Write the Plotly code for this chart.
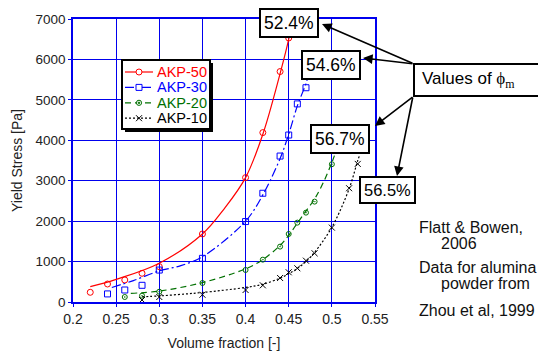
import plotly.graph_objects as go

# ---- data ----
AKP50_x = [0.22, 0.24, 0.26, 0.28, 0.30, 0.35, 0.40, 0.42, 0.44, 0.45]
AKP50_y = [240, 445, 545, 710, 875, 1683, 3077, 4190, 5700, 6530]
AKP30_x = [0.24, 0.26, 0.28, 0.30, 0.35, 0.40, 0.42, 0.44, 0.45, 0.46, 0.47]
AKP30_y = [200, 297, 413, 790, 1080, 1990, 2690, 3610, 4130, 4900, 5300]
AKP20_x = [0.26, 0.28, 0.30, 0.35, 0.40, 0.42, 0.44, 0.45, 0.46, 0.47, 0.48, 0.50]
AKP20_y = [124, 156, 255, 470, 792, 1047, 1370, 1683, 1963, 2210, 2483, 3408]
AKP10_x = [0.28, 0.30, 0.35, 0.40, 0.42, 0.44, 0.45, 0.46, 0.47, 0.48, 0.50, 0.52, 0.53]
AKP10_y = [50, 124, 180, 297, 413, 594, 735, 834, 1022, 1205, 1840, 2814, 3416]

# fitted curves
FIT50_x = [0.22, 0.25, 0.30, 0.35, 0.375, 0.40, 0.42, 0.44, 0.45, 0.453]
FIT50_y = [380, 560, 960, 1683, 2300, 3077, 4150, 5650, 6500, 6850]
FIT30_x = [0.245, 0.27, 0.30, 0.325, 0.35, 0.40, 0.42, 0.44, 0.45, 0.46, 0.47, 0.472]
FIT30_y = [360, 530, 770, 900, 1120, 2000, 2650, 3550, 4150, 4850, 5400, 5550]
FIT20_x = [0.267, 0.30, 0.35, 0.40, 0.42, 0.44, 0.45, 0.46, 0.47, 0.48, 0.49, 0.50, 0.503]
FIT20_y = [215, 270, 480, 820, 1050, 1400, 1650, 1950, 2250, 2550, 2950, 3450, 3620]
FIT10_x = [0.28, 0.30, 0.325, 0.35, 0.40, 0.42, 0.44, 0.45, 0.46, 0.47, 0.48, 0.50, 0.52, 0.53, 0.532]
FIT10_y = [130, 150, 190, 235, 360, 440, 590, 700, 830, 1000, 1230, 1850, 2800, 3500, 3620]

NAMES = ["AKP-50", "AKP-30", "AKP-20", "AKP-10"]
PHI_M = ["52.4%", "54.6%", "56.7%", "56.5%"]
X_TICKS = [0.2, 0.25, 0.3, 0.35, 0.4, 0.45, 0.5, 0.55]
Y_TICKS = [0, 1000, 2000, 3000, 4000, 5000, 6000, 7000]

FONT = "Liberation Sans, Arial, sans-serif"
SERIF = "Liberation Serif, Times New Roman, serif"
series = [
    (AKP50_x, AKP50_y, FIT50_x, FIT50_y, "#FF0000", "solid", "circle-open", 6),
    (AKP30_x, AKP30_y, FIT30_x, FIT30_y, "#0000FF", "9px,3px,2px,3px", "square-open", 6),
    (AKP20_x, AKP20_y, FIT20_x, FIT20_y, "#007000", "6px,4px", "circle-open-dot", 5),
    (AKP10_x, AKP10_y, FIT10_x, FIT10_y, "#000000", "2px,2px", "x-thin-open", 6),
]

# page geometry (the page body adds an 8px offset)
OFF = 8
L, T, W, H = 73, 19, 302, 283          # plot area in page pixels
FW, FH = 546 - OFF, 351 - OFF          # figure size
def px(xp):
    return (xp - L) / W
def py(yp):
    return (T + H - yp) / H

# hand-made legend box (page pixels)
LEG_X0, LEG_Y0, LEG_X1, LEG_Y1 = 122, 60, 210, 129
LEG_ROW0, LEG_ROWSTEP = 72, 15.4

fig = go.Figure()
annotations = []
shapes = [
    dict(type="rect", xref="paper", yref="paper", x0=px(LEG_X0 + 3), x1=px(LEG_X1 + 3),
         y0=py(LEG_Y1 + 3), y1=py(LEG_Y0 + 3), line=dict(width=0), fillcolor="black", layer="above"),
    dict(type="rect", xref="paper", yref="paper", x0=px(LEG_X0), x1=px(LEG_X1),
         y0=py(LEG_Y1), y1=py(LEG_Y0), line=dict(color="black", width=2), fillcolor="white", layer="above"),
]

def legend_symbol(sym, cx, cy, col):
    r = 3
    out = []
    if sym.startswith("circle"):
        rr = 2.6 if sym.endswith("dot") else r
        out.append(dict(type="circle", xref="paper", yref="paper", x0=px(cx - rr), x1=px(cx + rr),
                        y0=py(cy + rr), y1=py(cy - rr), line=dict(color=col, width=1), fillcolor="white",
                        layer="above"))
        if sym.endswith("dot"):
            out.append(dict(type="circle", xref="paper", yref="paper", x0=px(cx - 0.8), x1=px(cx + 0.8),
                            y0=py(cy + 0.8), y1=py(cy - 0.8), line=dict(color=col, width=1),
                            fillcolor=col, layer="above"))
    elif sym.startswith("square"):
        out.append(dict(type="rect", xref="paper", yref="paper", x0=px(cx - r), x1=px(cx + r),
                        y0=py(cy + r), y1=py(cy - r), line=dict(color=col, width=1), fillcolor="white",
                        layer="above"))
    else:
        for s in (1, -1):
            out.append(dict(type="line", xref="paper", yref="paper", x0=px(cx - r), x1=px(cx + r),
                            y0=py(cy - s * r), y1=py(cy + s * r), line=dict(color=col, width=1),
                            layer="above"))
    return out

for i, (name, (dx, dy, fx, fy, col, dash, sym, ms)) in enumerate(zip(NAMES, series)):
    fig.add_trace(go.Scatter(x=fx, y=fy, mode="lines", line=dict(color=col, width=1.2, dash=dash, shape="spline"),
                             showlegend=False, hoverinfo="skip"))
    fig.add_trace(go.Scatter(x=dx, y=dy, mode="markers", name=name,
                             marker=dict(symbol=sym, size=ms, color=col, line=dict(color=col, width=1)),
                             showlegend=False))
    ry = LEG_ROW0 + i * LEG_ROWSTEP
    shapes.append(dict(type="line", xref="paper", yref="paper", x0=px(LEG_X0 + 3), x1=px(LEG_X0 + 31),
                       y0=py(ry), y1=py(ry), line=dict(color=col, width=1.2, dash=dash), layer="above"))
    shapes.extend(legend_symbol(sym, LEG_X0 + 17, ry, col))
    annotations.append(dict(x=px(LEG_X0 + 33), y=py(ry), xref="paper", yref="paper", xanchor="left",
                            yanchor="middle", text=name, showarrow=False,
                            font=dict(family=FONT, size=14.5, color=col)))

# phi_m boxes
for txt, (cx, cy), fs in zip(PHI_M, [(289, 23), (331, 65), (340, 139), (387, 190)], [17.5, 17.5, 17.5, 16.5]):
    annotations.append(dict(x=px(cx), y=py(cy), xref="paper", yref="paper", xanchor="center", yanchor="middle",
                            text=txt, showarrow=False,
                            font=dict(family=FONT, size=fs, color="#000"), bgcolor="white",
                            bordercolor="black", borderwidth=2, borderpad=3))
# arrows
for (hx, hy), (tx, ty) in [((322, 24), (414, 64)), ((363, 58), (414, 64)),
                           ((375, 126), (414, 96)), ((397, 176), (413, 96))]:
    annotations.append(dict(x=px(hx), y=py(hy), xref="paper", yref="paper", text="", showarrow=True,
                            ax=tx - hx, ay=ty - hy, arrowhead=2, arrowsize=1.2, arrowwidth=1.6,
                            arrowcolor="black", standoff=0))
annotations.append(dict(x=px(420), y=py(80), xref="paper", yref="paper", xanchor="left", yanchor="middle",
                        text=f'Values of <span style="font-family:{SERIF}">ϕ<sub>m</sub></span>',
                        showarrow=False, font=dict(family=FONT, size=17, color="#000")))
for txt, xx, yy in [("Flatt & Bowen,", 417, 227), ("2006", 439, 243), ("Data for alumina", 417, 267),
                    ("powder from", 439, 283), ("Zhou et al, 1999", 417, 310)]:
    annotations.append(dict(x=px(xx), y=py(yy), xref="paper", yref="paper", xanchor="left", yanchor="middle",
                            text=txt, showarrow=False, font=dict(family=FONT, size=16, color="#111")))

shapes.append(dict(type="rect", xref="paper", yref="paper", x0=px(414), x1=px(560), y0=py(96), y1=py(64),
                   line=dict(color="black", width=2), fillcolor="white", layer="above"))

fig.update_layout(
    width=FW, height=FH,
    margin=dict(l=L - OFF, r=FW - (L - OFF) - W, t=T - OFF, b=FH - (T - OFF) - H, autoexpand=False),
    paper_bgcolor="white", plot_bgcolor="white",
    font=dict(family=FONT, color="#222"),
    xaxis=dict(range=[0.2, 0.55], tickvals=X_TICKS, ticktext=[f"{v:g}" for v in X_TICKS],
               showgrid=True, gridcolor="#0000EE", gridwidth=1, showline=True, linecolor="#0000EE",
               linewidth=1.5, mirror=True, ticks="outside", ticklen=3, tickcolor="#0000EE",
               zeroline=False, tickfont=dict(size=14, color="#222"), automargin=False,
               title=dict(text="Volume fraction [-]", font=dict(size=14, color="#222"), standoff=18)),
    yaxis=dict(range=[0, 7000], tickvals=Y_TICKS, showgrid=True, gridcolor="#0000EE", gridwidth=1,
               showline=True, linecolor="#0000EE", linewidth=1.5, mirror=True, ticks="outside",
               ticklen=3, tickcolor="#0000EE", zeroline=False, tickfont=dict(size=13.5, color="#222"),
               automargin=False,
               title=dict(text="Yield Stress [Pa]", font=dict(size=14, color="#222"), standoff=10)),
    annotations=annotations, shapes=shapes, showlegend=False,
)
fig.write_html("out.html")
